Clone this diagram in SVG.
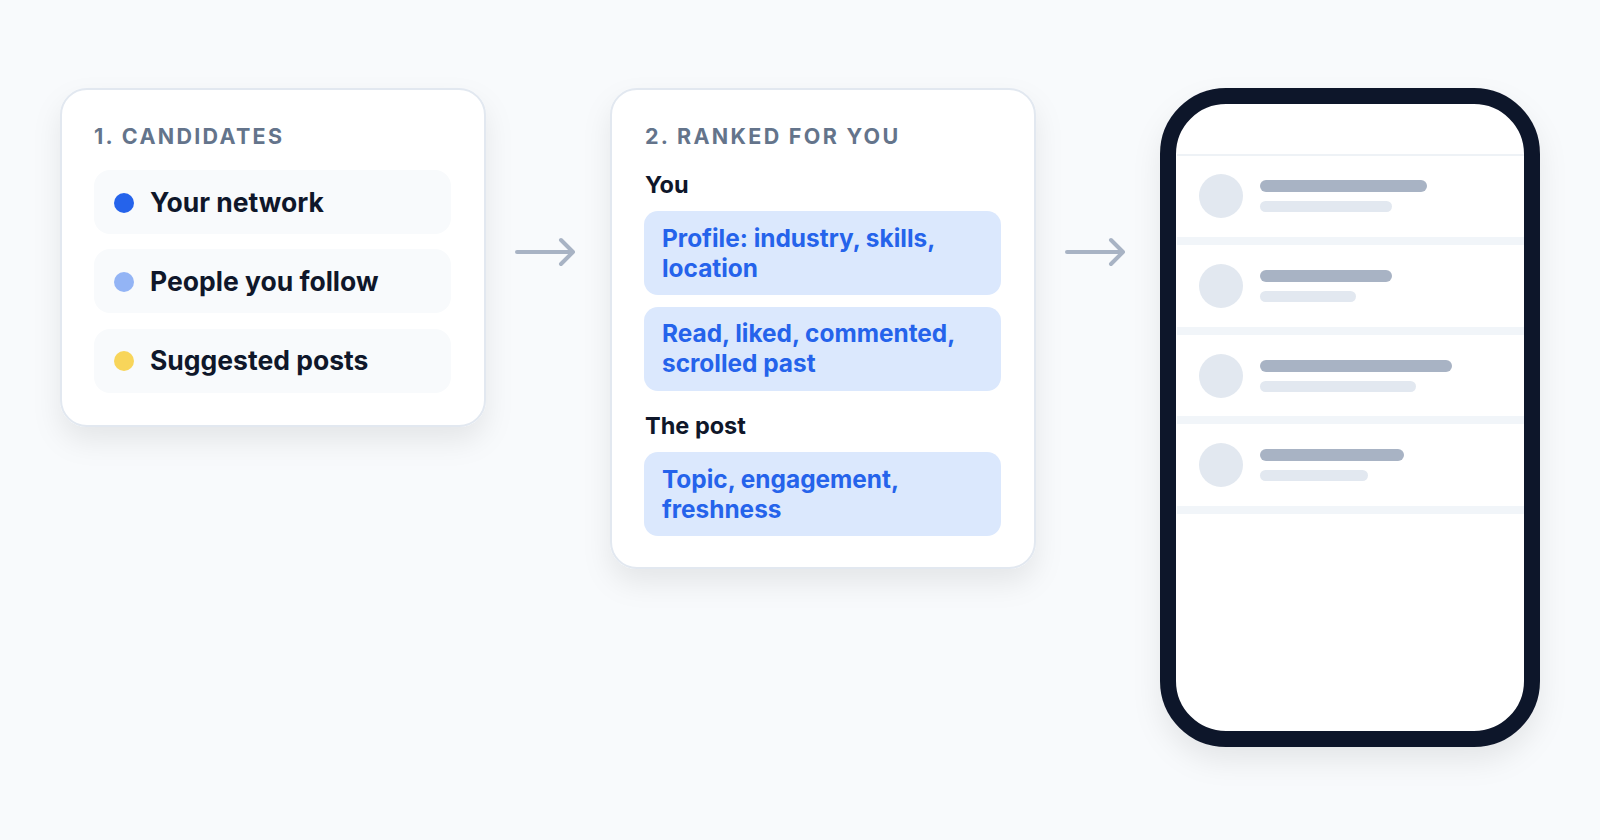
<svg xmlns="http://www.w3.org/2000/svg" width="1600" height="840" viewBox="0 0 1600 840">
<defs>
<filter id="sh" x="-20%" y="-20%" width="140%" height="150%"><feDropShadow dx="0" dy="14" stdDeviation="14" flood-color="#0f172a" flood-opacity="0.08"/></filter>
<style>
.card{fill:#fff;stroke:#e2e8f0;stroke-width:2}
.title{font:700 21.5px "Inter","Liberation Sans",sans-serif;fill:#64748b;letter-spacing:2.3px}
.row{fill:#f8fafc}
.rt{font:700 26.5px "Inter","Liberation Sans",sans-serif;fill:#0f172a}
.h{font:700 23.5px "Inter","Liberation Sans",sans-serif;fill:#0f172a}
.chip{fill:#dbe8fd}
.ct{font:700 24.4px "Inter","Liberation Sans",sans-serif;fill:#2563eb}
.arr{fill:none;stroke:#a8b3c4;stroke-width:4;stroke-linecap:round;stroke-linejoin:round}
.av{fill:#e2e8f0}.db{fill:#a8b3c4}.lb{fill:#e2e8f0}.sep{fill:#f1f5f9}
</style>
</defs>
<rect width="1600" height="840" fill="#f8fafc"/>
<g id="candidates">
<rect class="card" x="61" y="89" width="424" height="337" rx="26" filter="url(#sh)"/>
<text class="title" x="94" y="144">1. CANDIDATES</text>
<rect class="row" x="94" y="170" width="357" height="64" rx="16"/>
<circle cx="124" cy="203" r="10" fill="#2563eb"/><text class="rt" x="150" y="212">Your network</text>
<rect class="row" x="94" y="249" width="357" height="64" rx="16"/>
<circle cx="124" cy="282" r="10" fill="#93b4f5"/><text class="rt" x="150" y="291">People you follow</text>
<rect class="row" x="94" y="329" width="357" height="64" rx="16"/>
<circle cx="124" cy="361" r="10" fill="#f8d55a"/><text class="rt" x="150" y="370">Suggested posts</text>
</g>
<g id="ranked">
<rect class="card" x="611" y="89" width="424" height="479" rx="26" filter="url(#sh)"/>
<text class="title" x="645" y="144">2. RANKED FOR YOU</text>
<text class="h" x="645" y="193">You</text>
<rect class="chip" x="644" y="211" width="357" height="84" rx="14"/>
<text class="ct" x="662" y="247">Profile: industry, skills,</text><text class="ct" x="662" y="277">location</text>
<rect class="chip" x="644" y="307" width="357" height="84" rx="14"/>
<text class="ct" x="662" y="342">Read, liked, commented,</text><text class="ct" x="662" y="372">scrolled past</text>
<text class="h" x="645" y="434">The post</text>
<rect class="chip" x="644" y="452" width="357" height="84" rx="14"/>
<text class="ct" x="662" y="488">Topic, engagement,</text><text class="ct" x="662" y="518">freshness</text>
</g>
<g id="phone">
<rect x="1168" y="96" width="364" height="643" rx="58" fill="#fff" stroke="#0f172a" stroke-width="16" filter="url(#sh)"/>
<rect x="1177" y="154" width="347" height="2" fill="#eef2f6"/>
<rect class="sep" x="1177" y="237" width="347" height="8"/>
<rect class="sep" x="1177" y="327" width="347" height="8"/>
<rect class="sep" x="1177" y="416" width="347" height="8"/>
<rect class="sep" x="1177" y="506" width="347" height="8"/>
<circle class="av" cx="1221" cy="196" r="22"/><rect class="db" x="1260" y="180" width="167" height="12" rx="6"/><rect class="lb" x="1260" y="201" width="132" height="11" rx="5.5"/>
<circle class="av" cx="1221" cy="286" r="22"/><rect class="db" x="1260" y="270" width="132" height="12" rx="6"/><rect class="lb" x="1260" y="291" width="96" height="11" rx="5.5"/>
<circle class="av" cx="1221" cy="376" r="22"/><rect class="db" x="1260" y="360" width="192" height="12" rx="6"/><rect class="lb" x="1260" y="381" width="156" height="11" rx="5.5"/>
<circle class="av" cx="1221" cy="465" r="22"/><rect class="db" x="1260" y="449" width="144" height="12" rx="6"/><rect class="lb" x="1260" y="470" width="108" height="11" rx="5.5"/>
</g>
<g id="connectors">
<path class="arr" d="M517,252 H573 M561,240 L573,252 L561,264"/>
<path class="arr" d="M1067,252 H1123 M1111,240 L1123,252 L1111,264"/>
</g>
</svg>
